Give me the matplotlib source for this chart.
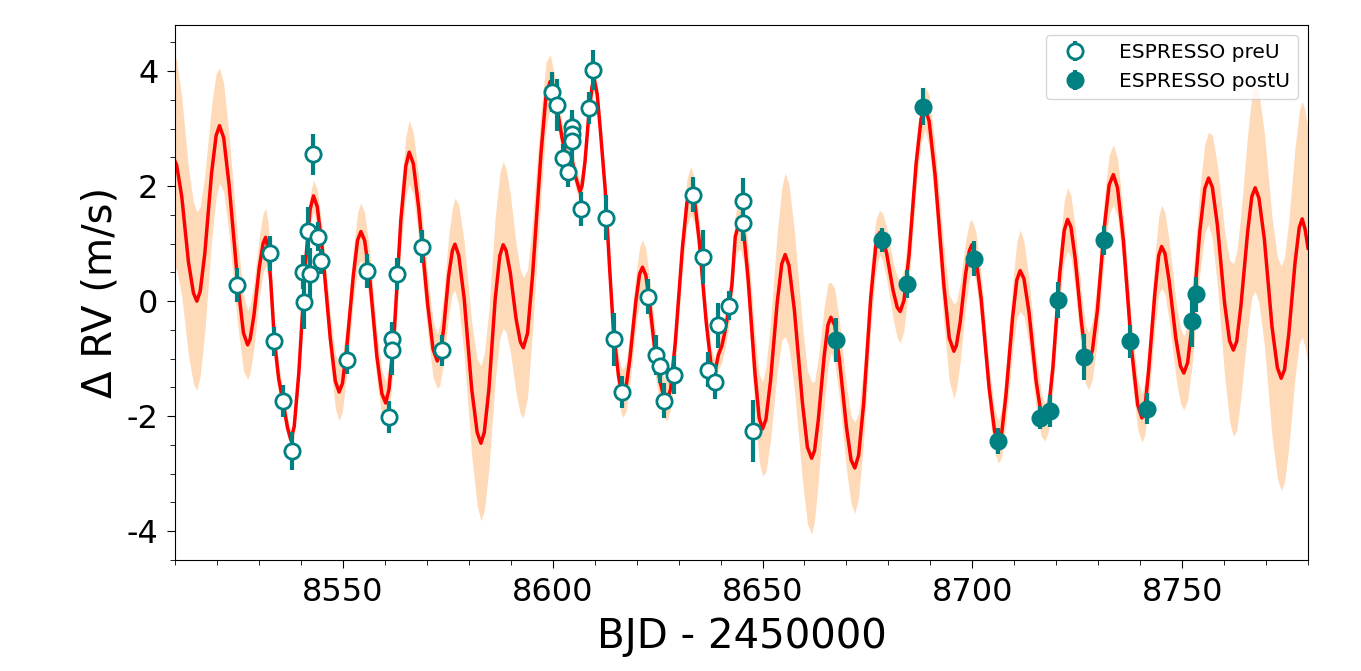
import matplotlib
matplotlib.use("Agg")
import matplotlib.pyplot as plt
import numpy as np
from matplotlib.ticker import MultipleLocator

plt.rcParams["axes.unicode_minus"] = False

# -- Modele (courbe rouge) et largeur de la bande d'incertitude --------------
model_t = [
    8510.0, 8510.4, 8511.6, 8513.2, 8514.4, 8515.2, 8516.0, 8517.1, 8518.7, 8519.8,
    8520.6, 8521.6, 8522.9, 8525.0, 8526.3, 8527.3, 8527.9, 8528.8, 8530.1, 8531.0,
    8531.6, 8532.2, 8532.8, 8533.7, 8534.7, 8535.8, 8536.8, 8537.6, 8538.4, 8539.5,
    8541.1, 8542.2, 8543.0, 8543.9, 8545.1, 8547.0, 8548.2, 8549.1, 8549.9, 8550.9,
    8552.5, 8553.5, 8554.3, 8555.2, 8556.4, 8558.1, 8559.3, 8560.2, 8561.0, 8562.2,
    8563.8, 8565.0, 8565.8, 8566.8, 8568.1, 8570.2, 8571.5, 8572.5, 8573.1, 8574.0,
    8575.2, 8576.1, 8576.7, 8577.6, 8578.9, 8580.7, 8582.0, 8582.9, 8583.7, 8584.8,
    8586.3, 8587.4, 8588.2, 8588.9, 8589.9, 8591.3, 8592.3, 8593.0, 8594.0, 8595.2,
    8597.2, 8598.4, 8599.4, 8600.3, 8601.0, 8602.2, 8603.4, 8604.4, 8605.5, 8606.5,
    8607.0, 8607.7, 8608.7, 8609.4, 8609.9, 8610.6, 8611.3, 8612.5, 8613.5, 8614.5,
    8615.7, 8616.3, 8616.8, 8617.5, 8618.4, 8619.8, 8620.7, 8621.4, 8622.2, 8623.2,
    8624.4, 8625.6, 8626.5, 8627.2, 8628.1, 8629.2, 8630.9, 8632.0, 8632.9, 8633.8,
    8634.9, 8636.6, 8637.7, 8638.6, 8639.5, 8640.3, 8641.0, 8641.7, 8642.7, 8643.5,
    8644.1, 8644.8, 8645.6, 8646.6, 8648.2, 8649.2, 8650.0, 8650.8, 8651.9, 8653.5,
    8654.6, 8655.4, 8656.3, 8657.6, 8659.5, 8660.7, 8661.7, 8662.4, 8663.3, 8664.7,
    8665.6, 8666.3, 8667.2, 8668.3, 8670.0, 8671.1, 8672.0, 8672.9, 8674.1, 8675.8,
    8677.0, 8677.9, 8678.6, 8679.6, 8681.1, 8682.1, 8682.8, 8683.7, 8684.9, 8686.6,
    8687.8, 8688.7, 8689.7, 8691.1, 8693.2, 8694.5, 8695.6, 8696.2, 8697.1, 8698.4,
    8699.3, 8699.9, 8700.8, 8702.1, 8704.0, 8705.3, 8706.2, 8707.0, 8708.0, 8709.6,
    8710.6, 8711.4, 8712.3, 8713.5, 8715.2, 8716.4, 8717.3, 8718.1, 8719.2, 8720.8,
    8721.9, 8722.7, 8723.5, 8724.5, 8726.0, 8726.9, 8727.7, 8728.6, 8729.8, 8731.5,
    8732.6, 8733.6, 8734.6, 8736.0, 8738.0, 8739.4, 8740.4, 8741.1, 8742.0, 8743.5,
    8744.4, 8745.1, 8745.9, 8746.9, 8748.5, 8749.6, 8750.4, 8751.3, 8752.5, 8754.2,
    8755.4, 8756.3, 8757.2, 8758.4, 8760.1, 8761.3, 8762.2, 8763.0, 8764.0, 8765.6,
    8766.6, 8767.4, 8768.3, 8769.6, 8771.4, 8772.7, 8773.6, 8774.4, 8775.4, 8776.9,
    8777.9, 8778.6, 8779.3, 8780.0,
]
model_rv = [
    2.43, 2.36, 1.82, 0.68, 0.14, 0.00, 0.17, 0.83, 2.22, 2.88,
    3.05, 2.84, 2.01, 0.28, -0.55, -0.76, -0.66, -0.25, 0.60, 1.01,
    1.11, 0.90, 0.35, -0.70, -1.35, -1.78, -2.20, -2.41, -2.18, -1.25,
    0.67, 1.60, 1.83, 1.64, 0.90, -0.65, -1.39, -1.58, -1.43, -0.82,
    0.45, 1.06, 1.21, 1.05, 0.40, -0.96, -1.61, -1.77, -1.53, -0.58,
    1.40, 2.35, 2.59, 2.39, 1.60, -0.05, -0.84, -1.04, -0.93, -0.49,
    0.44, 0.88, 0.99, 0.80, 0.05, -1.53, -2.28, -2.47, -2.28, -1.53,
    0.04, 0.79, 0.98, 0.88, 0.49, -0.32, -0.71, -0.81, -0.56, 0.45,
    2.56, 3.57, 3.82, 3.62, 3.37, 2.85, 2.46, 2.52, 2.15, 1.90,
    2.01, 2.43, 3.32, 3.74, 3.85, 3.60, 3.02, 1.95, 0.65, -0.54,
    -1.31, -1.55, -1.60, -1.48, -1.00, -0.01, 0.47, 0.59, 0.45, -0.10,
    -0.89, -1.40, -1.68, -1.73, -1.53, -0.73, 0.92, 1.72, 1.92, 1.75,
    1.06, -0.38, -1.08, -1.25, -0.93, -0.78, -0.55, -0.25, 0.28, 1.12,
    1.28, 1.33, 1.14, 0.36, -1.25, -2.03, -2.22, -2.06, -1.39, -0.02,
    0.65, 0.81, 0.62, -0.16, -1.76, -2.54, -2.73, -2.60, -2.06, -0.95,
    -0.41, -0.28, -0.42, -1.00, -2.19, -2.76, -2.90, -2.68, -1.78, 0.07,
    0.97, 1.19, 1.12, 0.82, 0.19, -0.11, -0.18, 0.01, 0.79, 2.39,
    3.17, 3.36, 3.13, 2.21, 0.29, -0.64, -0.87, -0.77, -0.37, 0.48,
    0.88, 0.98, 0.79, 0.04, -1.51, -2.26, -2.45, -2.29, -1.64, -0.28,
    0.37, 0.53, 0.39, -0.19, -1.39, -1.97, -2.11, -1.92, -1.15, 0.46,
    1.23, 1.42, 1.29, 0.75, -0.37, -0.91, -1.04, -0.86, -0.16, 1.32,
    2.02, 2.20, 1.97, 1.05, -0.88, -1.80, -2.03, -1.87, -1.22, 0.14,
    0.79, 0.95, 0.83, 0.35, -0.65, -1.13, -1.25, -1.07, -0.32, 1.21,
    1.96, 2.14, 1.98, 1.32, -0.03, -0.69, -0.85, -0.70, -0.08, 1.20,
    1.82, 1.97, 1.79, 1.07, -0.44, -1.16, -1.34, -1.19, -0.58, 0.67,
    1.28, 1.43, 1.25, 0.92,
]
model_sig = [
    1.85, 1.82, 1.73, 1.63, 1.58, 1.55, 1.47, 1.36, 1.19, 1.08,
    1.00, 0.94, 0.86, 0.74, 0.66, 0.60, 0.59, 0.57, 0.54, 0.52,
    0.50, 0.46, 0.42, 0.33, 0.26, 0.20, 0.17, 0.15, 0.17, 0.19,
    0.23, 0.25, 0.27, 0.30, 0.35, 0.42, 0.47, 0.50, 0.48, 0.45,
    0.45, 0.48, 0.50, 0.48, 0.46, 0.42, 0.40, 0.38, 0.41, 0.44,
    0.49, 0.52, 0.55, 0.54, 0.53, 0.50, 0.49, 0.48, 0.53, 0.59,
    0.69, 0.75, 0.80, 0.88, 0.99, 1.16, 1.27, 1.35, 1.37, 1.39,
    1.42, 1.44, 1.45, 1.42, 1.37, 1.30, 1.25, 1.22, 1.11, 0.96,
    0.73, 0.58, 0.47, 0.35, 0.30, 0.25, 0.21, 0.20, 0.20, 0.20,
    0.20, 0.20, 0.20, 0.20, 0.20, 0.20, 0.22, 0.25, 0.28, 0.30,
    0.35, 0.40, 0.42, 0.43, 0.44, 0.46, 0.47, 0.48, 0.46, 0.43,
    0.40, 0.37, 0.35, 0.35, 0.36, 0.37, 0.40, 0.41, 0.42, 0.39,
    0.36, 0.31, 0.28, 0.25, 0.26, 0.28, 0.30, 0.32, 0.35, 0.39,
    0.41, 0.43, 0.49, 0.57, 0.68, 0.76, 0.82, 0.91, 1.03, 1.21,
    1.33, 1.42, 1.41, 1.38, 1.35, 1.33, 1.32, 1.21, 1.07, 0.86,
    0.72, 0.61, 0.64, 0.67, 0.73, 0.76, 0.79, 0.73, 0.65, 0.53,
    0.45, 0.39, 0.41, 0.45, 0.49, 0.53, 0.55, 0.52, 0.49, 0.44,
    0.41, 0.38, 0.45, 0.53, 0.67, 0.75, 0.82, 0.76, 0.69, 0.57,
    0.50, 0.44, 0.43, 0.42, 0.39, 0.38, 0.37, 0.42, 0.49, 0.59,
    0.66, 0.71, 0.65, 0.57, 0.46, 0.38, 0.32, 0.35, 0.40, 0.47,
    0.52, 0.55, 0.54, 0.53, 0.52, 0.51, 0.50, 0.50, 0.51, 0.51,
    0.52, 0.52, 0.51, 0.48, 0.46, 0.43, 0.42, 0.46, 0.52, 0.62,
    0.68, 0.72, 0.71, 0.69, 0.67, 0.65, 0.64, 0.66, 0.70, 0.74,
    0.78, 0.80, 0.90, 1.05, 1.26, 1.40, 1.50, 1.55, 1.60, 1.70,
    1.75, 1.80, 1.82, 1.85, 1.90, 1.93, 1.95, 1.96, 1.98, 2.00,
    2.02, 2.05, 2.05, 2.05,
]

# -- Mesures ESPRESSO avant la mise a jour (preU) ----------------------------
preU_t = [
    8524.8, 8532.6, 8533.7, 8535.8, 8537.8, 8540.6, 8540.8, 8541.8, 8542.2, 8542.8,
    8544.0, 8544.7, 8550.9, 8555.8, 8561.1, 8561.8, 8561.8, 8562.8, 8568.9, 8573.6,
    8599.8, 8601.0, 8602.5, 8603.6, 8604.5, 8604.5, 8604.5, 8606.8, 8608.7, 8609.7,
    8612.7, 8614.5, 8616.5, 8622.6, 8624.6, 8625.6, 8626.5, 8628.8, 8633.5, 8635.8,
    8637.1, 8638.6, 8639.5, 8642.1, 8645.4, 8645.4, 8647.7,
]
preU_rv = [
    0.28, 0.83, -0.70, -1.74, -2.60, 0.51, -0.02, 1.22, 0.48, 2.55,
    1.12, 0.69, -1.02, 0.52, -2.01, -0.66, -0.85, 0.47, 0.95, -0.85,
    3.64, 3.41, 2.49, 2.24, 3.02, 2.90, 2.78, 1.60, 3.36, 4.02,
    1.45, -0.66, -1.58, 0.08, -0.93, -1.13, -1.73, -1.28, 1.85, 0.77,
    -1.19, -1.40, -0.42, -0.08, 1.74, 1.35, -2.25,
]
preU_err = [
    0.29, 0.30, 0.25, 0.28, 0.33, 0.30, 0.47, 0.42, 0.45, 0.36,
    0.25, 0.22, 0.25, 0.30, 0.28, 0.30, 0.44, 0.28, 0.28, 0.27,
    0.35, 0.45, 0.25, 0.25, 0.30, 0.30, 0.45, 0.30, 0.28, 0.35,
    0.39, 0.46, 0.28, 0.30, 0.35, 0.30, 0.30, 0.33, 0.30, 0.47,
    0.30, 0.30, 0.39, 0.25, 0.40, 0.30, 0.54,
]

# -- Mesures ESPRESSO apres la mise a jour (postU) ---------------------------
postU_t = [8667.5, 8678.4, 8684.4, 8688.3, 8700.5, 8706.2, 8716.1, 8718.5,
           8720.4, 8726.5, 8731.4, 8737.5, 8741.6, 8752.4, 8753.4]
postU_rv = [-0.67, 1.07, 0.30, 3.38, 0.74, -2.43, -2.03, -1.91,
            0.02, -0.97, 1.06, -0.70, -1.87, -0.35, 0.12]
postU_err = [0.38, 0.21, 0.25, 0.32, 0.30, 0.22, 0.20, 0.28,
             0.31, 0.40, 0.25, 0.28, 0.27, 0.45, 0.30]

TEAL = "#008080"

t = np.array(model_t)
rv = np.array(model_rv)
sig = np.array(model_sig)

fig = plt.figure(figsize=(13.61, 6.71), dpi=100)
ax = fig.add_axes([0.1286, 0.1654, 0.8325, 0.7973])

# Bande d'incertitude puis modele
ax.fill_between(t, rv - sig, rv + sig, color="#ffdab9", lw=0, zorder=1)
ax.plot(t, rv, color="red", lw=2.5, zorder=2)

ax.errorbar(preU_t, preU_rv, yerr=preU_err, fmt="o", color=TEAL,
            mfc="white", mec=TEAL, mew=2, ms=11, elinewidth=3, capsize=0,
            zorder=3, label="ESPRESSO preU")
ax.errorbar(postU_t, postU_rv, yerr=postU_err, fmt="o", color=TEAL,
            mfc=TEAL, mec=TEAL, mew=2, ms=11, elinewidth=3, capsize=0,
            zorder=3, label="ESPRESSO postU")

ax.set_xlim(8510, 8780)
ax.set_ylim(-4.5, 4.8)
ax.xaxis.set_major_locator(MultipleLocator(50))
ax.xaxis.set_minor_locator(MultipleLocator(10))
ax.yaxis.set_major_locator(MultipleLocator(2))
ax.yaxis.set_minor_locator(MultipleLocator(0.5))
ax.tick_params(axis="both", which="major", labelsize=23, length=6, pad=6)
ax.tick_params(axis="both", which="minor", length=3.5)

ax.set_xlabel("BJD - 2450000", fontsize=29, labelpad=7)
ax.set_ylabel("Δ RV (m/s)", fontsize=29)

ax.legend(loc="upper right", fontsize=14.5, handletextpad=1.2)

plt.savefig("out.png", dpi=100)
plt.close()
